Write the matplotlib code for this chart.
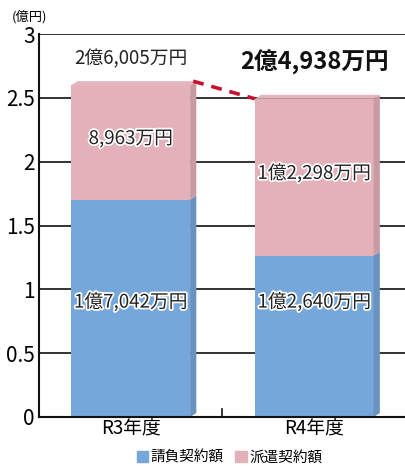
#!/usr/bin/env python3
"""Stacked 3D-style bar chart of contract amounts (請負 / 派遣) for R3 and R4."""

import matplotlib
matplotlib.use("Agg")
import matplotlib.pyplot as plt
import matplotlib.patheffects as pe
from matplotlib.patches import Polygon, Patch

plt.rcParams['font.family'] = ['Noto Sans CJK JP', 'DejaVu Sans']

# Data (億円)
years = ["R3年度", "R4年度"]
ukeoi = [1.7042, 1.2640]
haken = [0.8963, 1.2298]
ukeoi_labels = ["1億7,042万円", "1億2,640万円"]
haken_labels = ["8,963万円", "1億2,298万円"]
total_labels = ["2億6,005万円", "2億4,938万円"]
series_names = ["請負契約額", "派遣契約額"]

blue, blue_side = "#76a7db", "#6892bf"
pink, pink_side = "#e4b1ba", "#c89ba3"

fig = plt.figure(figsize=(4.06, 4.68), dpi=100)
ax = fig.add_axes([0.096, 0.109, 0.904, 0.818])

width = 0.647
dx, dy = 0.034, 0.031   # depth of the side/top faces
x = list(range(len(years)))

ax.set_xlim(-0.5, 1.5)
ax.set_ylim(0, 3)

# grid lines behind bars
for yv in [0.5, 1, 1.5, 2, 2.5, 3]:
    ax.axhline(yv, color="#111111", lw=1.2, zorder=0)


def draw_segment(xc, bottom, height, front, side, top_face=False):
    x0, x1 = xc - width / 2, xc + width / 2
    ax.bar(xc, height, width, bottom=bottom, color=front, zorder=2)
    top = bottom + height
    ax.add_patch(Polygon([(x1, bottom), (x1 + dx, bottom + dy),
                          (x1 + dx, top + dy), (x1, top)],
                         closed=True, color=side, lw=0, zorder=2))
    if top_face:
        ax.add_patch(Polygon([(x0, top), (x0 + dx, top + dy),
                              (x1 + dx, top + dy), (x1, top)],
                             closed=True, color="#e6b5be", lw=0, zorder=2))


for i in x:
    draw_segment(i, 0, ukeoi[i], blue, blue_side)
    draw_segment(i, ukeoi[i], haken[i], pink, pink_side, top_face=True)

halo = [pe.withStroke(linewidth=2.5, foreground="white")]
for i in x:
    ax.text(i, 0.90, ukeoi_labels[i], ha="center", va="center",
            fontsize=13.5, color="#222222", path_effects=halo, zorder=5)
    ax.text(i, ukeoi[i] + haken[i] / 2 + 0.03, haken_labels[i], ha="center",
            va="center", fontsize=13.5, color="#222222", path_effects=halo, zorder=5)

totals = [u + h for u, h in zip(ukeoi, haken)]
ax.text(0, 2.81, total_labels[0], ha="center", va="center", fontsize=13.5,
        color="#222222")
ax.text(1, 2.78, total_labels[1], ha="center", va="center", fontsize=17,
        fontweight="bold", color="#111111")

# dashed link between totals
ax.plot([0 + width / 2 + dx / 2, 1 - width / 2],
        [totals[0] + dy, totals[1]], color="#c8102e", lw=2.6,
        ls=(0, (3, 2.2)), zorder=4, solid_capstyle="butt")

ax.set_xticks(x)
ax.set_xticklabels(years, fontsize=13.5)
ax.set_yticks([0, 0.5, 1, 1.5, 2, 2.5, 3])
ax.set_yticklabels(["0", "0.5", "1", "1.5", "2", "2.5", "3"], fontsize=15)
ax.tick_params(axis="y", length=0, pad=3)
ax.tick_params(axis="x", length=0, pad=1)
ax.axvline(0.5, ymin=0, ymax=0.022, color="#111111", lw=1.2, zorder=1)

for side in ["top", "right"]:
    ax.spines[side].set_visible(False)
for side in ["left", "bottom"]:
    ax.spines[side].set_color("#111111")
    ax.spines[side].set_linewidth(1.5)

fig.text(0.072, 0.965, "(億円)", ha="center", va="center", fontsize=9.5)

handles = [Patch(color=blue), Patch(color=pink)]
fig.legend(handles, series_names, loc="center", bbox_to_anchor=(0.565, 0.022),
           ncol=2, frameon=False, fontsize=10.5, handlelength=0.8,
           handleheight=0.8, handletextpad=0.15, columnspacing=0.8)

fig.savefig("out.png", dpi=100)
